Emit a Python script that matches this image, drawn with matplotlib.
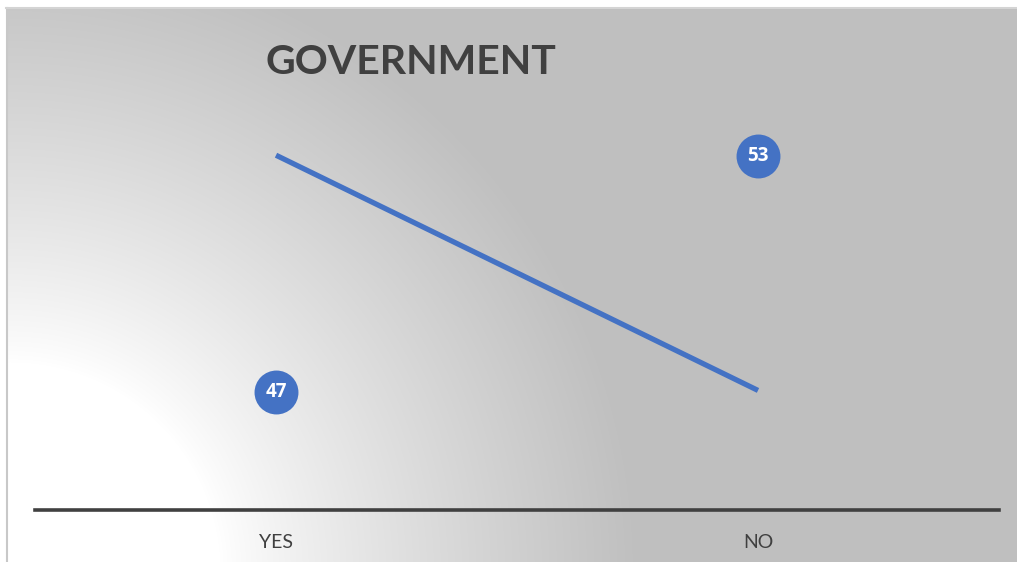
import numpy as np
import matplotlib.pyplot as plt

categories = ['YES', 'NO']
values = [47, 53]
title = 'GOVERNMENT'

W, H = 1017, 562
fig = plt.figure(figsize=(W / 100, H / 100), dpi=100)

# radial white-to-grey fill behind the chart, brightest at the lower left
bg = fig.add_axes([0, 0, 1, 1])
yy, xx = np.mgrid[0:H, 0:W]
r = np.hypot(xx - 10, yy - (H + 10))
t = np.clip((r - 210) / 420, 0, 1) ** 0.85
shade = 1.0 - t * (1.0 - 191 / 255)
img = np.dstack([shade, shade, shade])
img[:8, :] = 1.0
img[:, :6] = 1.0
bg.imshow(img, extent=(0, W, H, 0), aspect='auto', interpolation='bilinear')
bg.plot([6.5, 6.5], [8, H], color='#c8c8c8', lw=1.5)
bg.plot([6, W], [8, 8], color='#d4d4d4', lw=1.5)
bg.set_xlim(0, W)
bg.set_ylim(H, 0)
bg.axis('off')

# plot area in pixel units
left, right, bottom, top = 35, 999, 510, 18
ax = fig.add_axes([left / W, (H - bottom) / H, (right - left) / W, (bottom - top) / H])
ax.patch.set_alpha(0)
x = np.arange(len(categories))
ax.set_xlim(-0.5, len(categories) - 0.5)
ax.set_ylim(44, 56.5)

# line series drawn on a reversed value axis
ax2 = ax.twinx()
ax2.set_ylim(56.05, 43.5)
ax2.plot(x, values, color='#4472C4', lw=3.8, solid_capstyle='butt')
ax2.axis('off')

# value bubbles
for xi, v in zip(x, values):
    ax.scatter(xi, v, s=1000, color='#4472C4', zorder=5, linewidths=0)
    ax.text(xi, v, str(v), ha='center', va='center', color='white',
            fontsize=13.5, fontweight='bold', family='Open Sans', zorder=6)

for s in ['top', 'right', 'left']:
    ax.spines[s].set_visible(False)
ax.spines['bottom'].set_color('#404040')
ax.spines['bottom'].set_linewidth(2.6)
ax.set_yticks([])
ax.set_xticks(x)
ax.set_xticklabels(categories, family='Lato', fontsize=14, color='#404040')
ax.tick_params(axis='x', length=0, pad=17)

fig.text(411 / W, 1 - 62 / H, title, ha='center', va='center',
         fontsize=29.5, fontweight='bold', color='#404040', family='Lato')

fig.savefig('out.png', dpi=100)
